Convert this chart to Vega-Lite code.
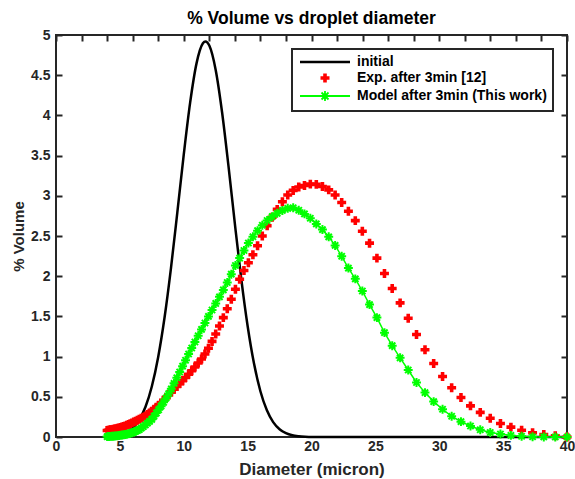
{
"$schema": "https://vega.github.io/schema/vega-lite/v6.json",
"width": 511, "height": 402,
"autosize": {"type": "none"},
"padding": {"left": 56, "top": 35, "right": 8, "bottom": 42},
"background": "white",
"title": {"text": "% Volume vs droplet diameter", "font": "Liberation Sans", "fontSize": 17.5, "fontWeight": "bold", "color": "#000000", "anchor": "middle", "offset": 1},
"data": {"values": [
{"series":"initial","d":4,"v":0.005},{"series":"initial","d":4.5,"v":0.012},{"series":"initial","d":5,"v":0.026},{"series":"initial","d":5.5,"v":0.055},{"series":"initial","d":6,"v":0.111},{"series":"initial","d":6.5,"v":0.21},{"series":"initial","d":7,"v":0.373},{"series":"initial","d":7.5,"v":0.628},{"series":"initial","d":8,"v":0.996},{"series":"initial","d":8.5,"v":1.489},{"series":"initial","d":9,"v":2.101},{"series":"initial","d":9.5,"v":2.797},{"series":"initial","d":10,"v":3.512},{"series":"initial","d":10.5,"v":4.159},{"series":"initial","d":11,"v":4.647},{"series":"initial","d":11.5,"v":4.897},{"series":"initial","d":11.7,"v":4.92},{"series":"initial","d":12,"v":4.869},{"series":"initial","d":12.5,"v":4.566},{"series":"initial","d":13,"v":4.039},{"series":"initial","d":13.5,"v":3.371},{"series":"initial","d":14,"v":2.654},{"series":"initial","d":14.5,"v":1.971},{"series":"initial","d":15,"v":1.381},{"series":"initial","d":15.5,"v":0.913},{"series":"initial","d":16,"v":0.569},{"series":"initial","d":16.5,"v":0.335},{"series":"initial","d":17,"v":0.185},{"series":"initial","d":17.5,"v":0.097},{"series":"initial","d":18,"v":0.048},{"series":"initial","d":18.5,"v":0.022},{"series":"initial","d":19,"v":0.01},{"series":"initial","d":19.5,"v":0.004},{"series":"initial","d":20,"v":0.001},{"series":"initial","d":25,"v":0},{"series":"initial","d":30,"v":0},{"series":"initial","d":35,"v":0},{"series":"initial","d":40,"v":0},
{"series":"Exp. after 3min [12]","d":4.000,"v":0.080},{"series":"Exp. after 3min [12]","d":4.094,"v":0.083},{"series":"Exp. after 3min [12]","d":4.191,"v":0.086},{"series":"Exp. after 3min [12]","d":4.289,"v":0.089},{"series":"Exp. after 3min [12]","d":4.390,"v":0.092},{"series":"Exp. after 3min [12]","d":4.494,"v":0.096},{"series":"Exp. after 3min [12]","d":4.599,"v":0.100},{"series":"Exp. after 3min [12]","d":4.708,"v":0.104},{"series":"Exp. after 3min [12]","d":4.818,"v":0.108},{"series":"Exp. after 3min [12]","d":4.932,"v":0.112},
{"series":"Exp. after 3min [12]","d":5.048,"v":0.118},{"series":"Exp. after 3min [12]","d":5.166,"v":0.124},{"series":"Exp. after 3min [12]","d":5.288,"v":0.131},{"series":"Exp. after 3min [12]","d":5.413,"v":0.138},{"series":"Exp. after 3min [12]","d":5.540,"v":0.146},{"series":"Exp. after 3min [12]","d":5.671,"v":0.156},{"series":"Exp. after 3min [12]","d":5.804,"v":0.166},{"series":"Exp. after 3min [12]","d":5.941,"v":0.176},{"series":"Exp. after 3min [12]","d":6.081,"v":0.186},{"series":"Exp. after 3min [12]","d":6.224,"v":0.197},
{"series":"Exp. after 3min [12]","d":6.369,"v":0.208},{"series":"Exp. after 3min [12]","d":6.519,"v":0.220},{"series":"Exp. after 3min [12]","d":6.673,"v":0.233},{"series":"Exp. after 3min [12]","d":6.830,"v":0.246},{"series":"Exp. after 3min [12]","d":6.990,"v":0.259},{"series":"Exp. after 3min [12]","d":7.155,"v":0.279},{"series":"Exp. after 3min [12]","d":7.323,"v":0.299},{"series":"Exp. after 3min [12]","d":7.496,"v":0.320},{"series":"Exp. after 3min [12]","d":7.672,"v":0.344},{"series":"Exp. after 3min [12]","d":7.853,"v":0.369},
{"series":"Exp. after 3min [12]","d":8.037,"v":0.395},{"series":"Exp. after 3min [12]","d":8.226,"v":0.421},{"series":"Exp. after 3min [12]","d":8.420,"v":0.457},{"series":"Exp. after 3min [12]","d":8.618,"v":0.490},{"series":"Exp. after 3min [12]","d":8.821,"v":0.525},{"series":"Exp. after 3min [12]","d":9.028,"v":0.559},{"series":"Exp. after 3min [12]","d":9.241,"v":0.593},{"series":"Exp. after 3min [12]","d":9.458,"v":0.628},{"series":"Exp. after 3min [12]","d":9.681,"v":0.664},{"series":"Exp. after 3min [12]","d":9.909,"v":0.700},
{"series":"Exp. after 3min [12]","d":10.141,"v":0.739},{"series":"Exp. after 3min [12]","d":10.380,"v":0.780},{"series":"Exp. after 3min [12]","d":10.624,"v":0.824},{"series":"Exp. after 3min [12]","d":10.874,"v":0.871},{"series":"Exp. after 3min [12]","d":11.130,"v":0.920},{"series":"Exp. after 3min [12]","d":11.392,"v":0.970},{"series":"Exp. after 3min [12]","d":11.660,"v":1.032},{"series":"Exp. after 3min [12]","d":11.934,"v":1.103},{"series":"Exp. after 3min [12]","d":12.215,"v":1.189},{"series":"Exp. after 3min [12]","d":12.502,"v":1.281},
{"series":"Exp. after 3min [12]","d":12.797,"v":1.381},{"series":"Exp. after 3min [12]","d":13.098,"v":1.485},{"series":"Exp. after 3min [12]","d":13.406,"v":1.596},{"series":"Exp. after 3min [12]","d":13.722,"v":1.714},{"series":"Exp. after 3min [12]","d":14.045,"v":1.837},{"series":"Exp. after 3min [12]","d":14.375,"v":1.963},{"series":"Exp. after 3min [12]","d":14.713,"v":2.070},{"series":"Exp. after 3min [12]","d":15.060,"v":2.167},{"series":"Exp. after 3min [12]","d":15.414,"v":2.266},{"series":"Exp. after 3min [12]","d":15.777,"v":2.379},
{"series":"Exp. after 3min [12]","d":16.148,"v":2.500},{"series":"Exp. after 3min [12]","d":16.528,"v":2.628},{"series":"Exp. after 3min [12]","d":16.917,"v":2.733},{"series":"Exp. after 3min [12]","d":17.315,"v":2.831},{"series":"Exp. after 3min [12]","d":17.722,"v":2.926},{"series":"Exp. after 3min [12]","d":18.139,"v":3.009},{"series":"Exp. after 3min [12]","d":18.566,"v":3.067},{"series":"Exp. after 3min [12]","d":19.003,"v":3.110},{"series":"Exp. after 3min [12]","d":19.450,"v":3.128},{"series":"Exp. after 3min [12]","d":19.908,"v":3.145},
{"series":"Exp. after 3min [12]","d":20.376,"v":3.142},{"series":"Exp. after 3min [12]","d":20.856,"v":3.115},{"series":"Exp. after 3min [12]","d":21.347,"v":3.074},{"series":"Exp. after 3min [12]","d":21.849,"v":3.011},{"series":"Exp. after 3min [12]","d":22.363,"v":2.917},{"series":"Exp. after 3min [12]","d":22.889,"v":2.808},{"series":"Exp. after 3min [12]","d":23.428,"v":2.691},{"series":"Exp. after 3min [12]","d":23.979,"v":2.560},{"series":"Exp. after 3min [12]","d":24.544,"v":2.411},{"series":"Exp. after 3min [12]","d":25.121,"v":2.225},
{"series":"Exp. after 3min [12]","d":25.712,"v":2.034},{"series":"Exp. after 3min [12]","d":26.317,"v":1.847},{"series":"Exp. after 3min [12]","d":26.937,"v":1.668},{"series":"Exp. after 3min [12]","d":27.571,"v":1.477},{"series":"Exp. after 3min [12]","d":28.220,"v":1.274},{"series":"Exp. after 3min [12]","d":28.884,"v":1.086},{"series":"Exp. after 3min [12]","d":29.563,"v":0.915},{"series":"Exp. after 3min [12]","d":30.259,"v":0.753},{"series":"Exp. after 3min [12]","d":30.971,"v":0.612},{"series":"Exp. after 3min [12]","d":31.700,"v":0.492},
{"series":"Exp. after 3min [12]","d":32.445,"v":0.387},{"series":"Exp. after 3min [12]","d":33.209,"v":0.306},{"series":"Exp. after 3min [12]","d":33.991,"v":0.233},{"series":"Exp. after 3min [12]","d":34.791,"v":0.168},{"series":"Exp. after 3min [12]","d":35.609,"v":0.123},{"series":"Exp. after 3min [12]","d":36.447,"v":0.084},{"series":"Exp. after 3min [12]","d":37.305,"v":0.052},{"series":"Exp. after 3min [12]","d":38.183,"v":0.030},{"series":"Exp. after 3min [12]","d":39.081,"v":0.015},{"series":"Exp. after 3min [12]","d":40.000,"v":0.000},
{"series":"Model after 3min (This work)","d":4.000,"v":0.005},{"series":"Model after 3min (This work)","d":4.094,"v":0.006},{"series":"Model after 3min (This work)","d":4.191,"v":0.007},{"series":"Model after 3min (This work)","d":4.289,"v":0.008},{"series":"Model after 3min (This work)","d":4.390,"v":0.009},{"series":"Model after 3min (This work)","d":4.494,"v":0.010},{"series":"Model after 3min (This work)","d":4.599,"v":0.012},{"series":"Model after 3min (This work)","d":4.708,"v":0.014},{"series":"Model after 3min (This work)","d":4.818,"v":0.016},{"series":"Model after 3min (This work)","d":4.932,"v":0.019},
{"series":"Model after 3min (This work)","d":5.048,"v":0.021},{"series":"Model after 3min (This work)","d":5.166,"v":0.024},{"series":"Model after 3min (This work)","d":5.288,"v":0.027},{"series":"Model after 3min (This work)","d":5.413,"v":0.031},{"series":"Model after 3min (This work)","d":5.540,"v":0.035},{"series":"Model after 3min (This work)","d":5.671,"v":0.040},{"series":"Model after 3min (This work)","d":5.804,"v":0.046},{"series":"Model after 3min (This work)","d":5.941,"v":0.052},{"series":"Model after 3min (This work)","d":6.081,"v":0.061},{"series":"Model after 3min (This work)","d":6.224,"v":0.071},
{"series":"Model after 3min (This work)","d":6.369,"v":0.081},{"series":"Model after 3min (This work)","d":6.519,"v":0.092},{"series":"Model after 3min (This work)","d":6.673,"v":0.111},{"series":"Model after 3min (This work)","d":6.830,"v":0.130},{"series":"Model after 3min (This work)","d":6.990,"v":0.149},{"series":"Model after 3min (This work)","d":7.155,"v":0.172},{"series":"Model after 3min (This work)","d":7.323,"v":0.195},{"series":"Model after 3min (This work)","d":7.496,"v":0.219},{"series":"Model after 3min (This work)","d":7.672,"v":0.258},{"series":"Model after 3min (This work)","d":7.853,"v":0.298},
{"series":"Model after 3min (This work)","d":8.037,"v":0.339},{"series":"Model after 3min (This work)","d":8.226,"v":0.384},{"series":"Model after 3min (This work)","d":8.420,"v":0.431},{"series":"Model after 3min (This work)","d":8.618,"v":0.483},{"series":"Model after 3min (This work)","d":8.821,"v":0.540},{"series":"Model after 3min (This work)","d":9.028,"v":0.599},{"series":"Model after 3min (This work)","d":9.241,"v":0.667},{"series":"Model after 3min (This work)","d":9.458,"v":0.737},{"series":"Model after 3min (This work)","d":9.681,"v":0.808},{"series":"Model after 3min (This work)","d":9.909,"v":0.881},
{"series":"Model after 3min (This work)","d":10.141,"v":0.955},{"series":"Model after 3min (This work)","d":10.380,"v":1.032},{"series":"Model after 3min (This work)","d":10.624,"v":1.107},{"series":"Model after 3min (This work)","d":10.874,"v":1.182},{"series":"Model after 3min (This work)","d":11.130,"v":1.259},{"series":"Model after 3min (This work)","d":11.392,"v":1.338},{"series":"Model after 3min (This work)","d":11.660,"v":1.418},{"series":"Model after 3min (This work)","d":11.934,"v":1.500},{"series":"Model after 3min (This work)","d":12.215,"v":1.580},{"series":"Model after 3min (This work)","d":12.502,"v":1.661},
{"series":"Model after 3min (This work)","d":12.797,"v":1.743},{"series":"Model after 3min (This work)","d":13.098,"v":1.829},{"series":"Model after 3min (This work)","d":13.406,"v":1.922},{"series":"Model after 3min (This work)","d":13.722,"v":2.025},{"series":"Model after 3min (This work)","d":14.045,"v":2.133},{"series":"Model after 3min (This work)","d":14.375,"v":2.225},{"series":"Model after 3min (This work)","d":14.713,"v":2.320},{"series":"Model after 3min (This work)","d":15.060,"v":2.413},{"series":"Model after 3min (This work)","d":15.414,"v":2.491},{"series":"Model after 3min (This work)","d":15.777,"v":2.566},
{"series":"Model after 3min (This work)","d":16.148,"v":2.634},{"series":"Model after 3min (This work)","d":16.528,"v":2.693},{"series":"Model after 3min (This work)","d":16.917,"v":2.740},{"series":"Model after 3min (This work)","d":17.315,"v":2.782},{"series":"Model after 3min (This work)","d":17.722,"v":2.818},{"series":"Model after 3min (This work)","d":18.139,"v":2.844},{"series":"Model after 3min (This work)","d":18.566,"v":2.851},{"series":"Model after 3min (This work)","d":19.003,"v":2.820},{"series":"Model after 3min (This work)","d":19.450,"v":2.775},{"series":"Model after 3min (This work)","d":19.908,"v":2.721},
{"series":"Model after 3min (This work)","d":20.376,"v":2.650},{"series":"Model after 3min (This work)","d":20.856,"v":2.580},{"series":"Model after 3min (This work)","d":21.347,"v":2.490},{"series":"Model after 3min (This work)","d":21.849,"v":2.383},{"series":"Model after 3min (This work)","d":22.363,"v":2.248},{"series":"Model after 3min (This work)","d":22.889,"v":2.101},{"series":"Model after 3min (This work)","d":23.428,"v":1.967},{"series":"Model after 3min (This work)","d":23.979,"v":1.816},{"series":"Model after 3min (This work)","d":24.544,"v":1.647},{"series":"Model after 3min (This work)","d":25.121,"v":1.485},
{"series":"Model after 3min (This work)","d":25.712,"v":1.298},{"series":"Model after 3min (This work)","d":26.317,"v":1.136},{"series":"Model after 3min (This work)","d":26.937,"v":0.985},{"series":"Model after 3min (This work)","d":27.571,"v":0.833},{"series":"Model after 3min (This work)","d":28.220,"v":0.678},{"series":"Model after 3min (This work)","d":28.884,"v":0.552},{"series":"Model after 3min (This work)","d":29.563,"v":0.440},{"series":"Model after 3min (This work)","d":30.259,"v":0.345},{"series":"Model after 3min (This work)","d":30.971,"v":0.258},{"series":"Model after 3min (This work)","d":31.700,"v":0.191},
{"series":"Model after 3min (This work)","d":32.445,"v":0.137},{"series":"Model after 3min (This work)","d":33.209,"v":0.090},{"series":"Model after 3min (This work)","d":33.991,"v":0.056},{"series":"Model after 3min (This work)","d":34.791,"v":0.037},{"series":"Model after 3min (This work)","d":35.609,"v":0.020},{"series":"Model after 3min (This work)","d":36.447,"v":0.009},{"series":"Model after 3min (This work)","d":37.305,"v":0.003},{"series":"Model after 3min (This work)","d":38.183,"v":0.001},{"series":"Model after 3min (This work)","d":39.081,"v":0.000},{"series":"Model after 3min (This work)","d":40.000,"v":0.000}
]},
"encoding": {
  "color": {"field": "series", "type": "nominal",
    "scale": {"domain": ["initial", "Exp. after 3min [12]", "Model after 3min (This work)"], "range": ["#000000", "#ff0000", "#00ff00"]},
    "legend": {"title": null, "orient": "top-right", "offset": 14, "padding": 6,
      "strokeColor": "#262626", "fillColor": "#ffffff",
      "labelFont": "Liberation Sans", "labelFontSize": 14, "labelFontWeight": "bold", "labelColor": "#000000", "labelLimit": 400,
      "labelOffset": 45, "rowPadding": 2, "symbolSize": 100,
      "encode": {"symbols": {"update": {
        "shape": {"signal": "datum.value === 'initial' ? 'M-1,0H9' : datum.value === 'Exp. after 3min [12]' ? 'M3.1,-0.36H3.64V-0.9H4.36V-0.36H4.9V0.36H4.36V0.9H3.64V0.36H3.1Z' : 'M-1,0H9M3,0H5M4,-1V1M3.3,-0.7L4.7,0.7M3.3,0.7L4.7,-0.7'"},
        "fill": {"signal": "datum.value === 'Exp. after 3min [12]' ? '#ff0000' : 'transparent'"},
        "stroke": {"signal": "datum.value === 'initial' ? '#000000' : datum.value === 'Exp. after 3min [12]' ? 'transparent' : '#00ff00'"},
        "strokeWidth": {"signal": "datum.value === 'initial' ? 2.5 : datum.value === 'Exp. after 3min [12]' ? 0 : 1.8"},
        "opacity": {"value": 1}
      }}}
    }
  }
},
"layer": [
  {"transform": [{"filter": "datum.series === 'initial'"}],
   "mark": {"type": "line", "strokeWidth": 2.5, "interpolate": "monotone"},
   "encoding": {
     "x": {"field": "d", "type": "quantitative", "scale": {"domain": [0, 40], "nice": false},
       "axis": {"orient": "bottom", "values": [0,5,10,15,20,25,30,35,40], "title": "Diameter (micron)", "titleFontSize": 17,
         "tickSize": 0, "tickColor": "#262626", "tickWidth": 2, "labelPadding": 2, "titlePadding": 8, "labelFlush": false,
         "encode": {"ticks": {"update": {"y2": {"value": -6}}}}}},
     "y": {"field": "v", "type": "quantitative", "scale": {"domain": [0, 5], "nice": false},
       "axis": {"orient": "left", "values": [0,0.5,1,1.5,2,2.5,3,3.5,4,4.5,5], "format": "~g", "title": "% Volume", "titleFontSize": 15,
         "ticks": false, "labelPadding": 6, "titlePadding": 4, "labelFlush": false}}
   }},
  {"transform": [{"filter": "datum.series === 'Exp. after 3min [12]'"}],
   "mark": {"type": "point", "shape": "cross", "filled": true, "size": 80, "opacity": 1},
   "encoding": {
     "x": {"field": "d", "type": "quantitative",
       "axis": {"orient": "bottom", "offset": -402, "labels": false, "title": null, "tickColor": "#262626", "tickSize": 6, "tickWidth": 2}},
     "y": {"field": "v", "type": "quantitative",
       "axis": {"orient": "right", "offset": -511, "values": [0,0.5,1,1.5,2,2.5,3,3.5,4,4.5,5], "labels": false, "title": null, "tickColor": "#262626", "tickSize": 6, "tickWidth": 2}}
   }},
  {"transform": [{"filter": "datum.series === 'Model after 3min (This work)'"}],
   "mark": {"type": "line", "strokeWidth": 1.5},
   "encoding": {
     "x": {"field": "d", "type": "quantitative", "axis": null},
     "y": {"field": "v", "type": "quantitative",
       "axis": {"orient": "left", "offset": -511, "values": [0,0.5,1,1.5,2,2.5,3,3.5,4,4.5,5], "labels": false, "title": null, "tickColor": "#262626", "tickSize": 6, "tickWidth": 2}}
   }},
  {"transform": [{"filter": "datum.series === 'Model after 3min (This work)'"}],
   "mark": {"type": "point", "shape": "M-1,0L1,0M0,-1L0,1M-0.7,-0.7L0.7,0.7M-0.7,0.7L0.7,-0.7", "filled": false, "strokeWidth": 2, "size": 80, "opacity": 1},
   "encoding": {
     "x": {"field": "d", "type": "quantitative", "axis": null},
     "y": {"field": "v", "type": "quantitative", "axis": null}
   }}
],
"resolve": {"axis": {"x": "independent", "y": "independent"}},
"config": {
  "view": {"stroke": "#262626", "strokeWidth": 2},
  "axis": {"domain": false, "grid": false,
    "labelFont": "Liberation Sans", "labelFontSize": 14, "labelFontWeight": "bold", "labelColor": "#262626",
    "titleFont": "Liberation Sans", "titleFontWeight": "bold", "titleColor": "#262626"},
  "legend": {"strokeWidth": 2}
}
}
